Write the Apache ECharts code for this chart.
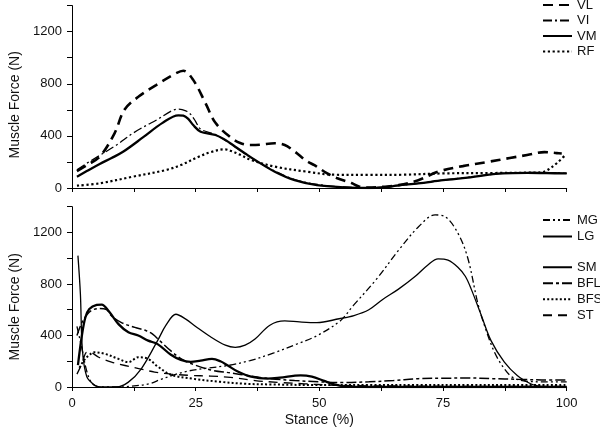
<!DOCTYPE html>
<html><head><meta charset="utf-8">
<script src="https://cdn.jsdelivr.net/npm/echarts@6.0.0/dist/echarts.min.js"></script>
<style>html,body{margin:0;padding:0;background:#fff}#c{width:600px;height:428px}</style>
</head><body><div id="c"></div>
<script>
// ---- Data (Stance %, Force N) ----
const yTitle = 'Muscle Force (N)';
const xTitle = 'Stance (%)';
const topNames = ['VL', 'VI', 'VM', 'RF'];
const bottomNamesA = ['MG', 'LG'];
const bottomNamesB = ['SM', 'BFL', 'BFS', 'ST'];

const VL = [[1,130],[3,175],[5.6,240],[8.6,420],[10.6,600],[13.4,700],[17,790],[21,880],[22.5,900],[24.5,830],[27,650],[29,500],[32,390],[34,345],[36,330],[38,332],[41,343],[43,330],[45,280],[47.5,205],[49,175],[51.5,115],[53.5,77],[56.5,38],[58,12],[60,3],[63,10],[66,22],[70,60],[74,125],[79,168],[84,200],[88.5,230],[92,253],[95.5,275],[98,268],[99,265]];
const VI = [[1,140],[3,190],[5.6,250],[9,330],[12.3,420],[15,480],[17,520],[20.3,595],[21.6,605],[23,592],[24,565],[25,510],[26,452],[29,410],[32,340],[35,262],[38,192],[41,130],[45,65],[50,25],[55,8],[60,3],[65,15],[70,36],[75,60],[80,82],[85,105],[90,118],[95,120],[100,112]];
const VM = [[1,87],[3,130],[5.6,185],[8,230],[10.4,280],[14.4,390],[18.3,500],[21.5,558],[22.5,555],[23.5,530],[24.5,483],[26,432],[29,407],[31,368],[33,317],[35,265],[37,215],[41,125],[45,60],[49.5,22],[55,5],[60,0],[63,5],[66,20],[70,35],[75,60],[80,80],[87,112],[92,116],[96,114],[100,112]];
const RF = [[1,18],[5.6,36],[12.3,87],[19,138],[22,176],[25.6,240],[28,275],[30.9,297],[32.3,282],[34,255],[36.2,215],[41,164],[47.5,125],[53,102],[60,100],[67,102],[75,112],[85,115],[94.7,120],[97,160],[99.6,248]];

const MG = [[1,470],[2,300],[3,120],[4,30],[5,5],[7,0],[10,0],[11.6,5],[15.6,25],[18,60],[20.3,90],[23,120],[27,145],[31.5,167],[36,205],[40.8,265],[45.5,334],[49.5,398],[54.2,513],[56.8,630],[61.5,835],[66.1,1066],[70.1,1246],[73.4,1336],[75.4,1323],[78,1195],[80,1002],[82,655],[83.4,475],[85.4,270],[87.4,141],[89,77],[91,50],[95,40],[100,40]];
const LG = [[1.2,1020],[1.7,720],[2.1,290],[3,80],[4.7,12],[6,0],[9,0],[11.4,38],[14,141],[17.3,360],[19,480],[21,565],[23,527],[25,470],[28,390],[31,325],[33,308],[35,325],[37,372],[40,480],[43,513],[46,505],[49.5,500],[54,530],[57,555],[60,600],[62.8,680],[66,760],[69.4,860],[72,950],[74,995],[76,985],[78,930],[79.5,860],[80.7,760],[82.7,560],[84.7,360],[87.4,193],[90,90],[92.7,25],[94,10],[96,0],[100,0]];
const SM = [[1.2,170],[2,400],[2.7,540],[3.5,605],[5,637],[6,640],[7.4,590],[9.4,488],[11.4,425],[13.4,400],[15.4,360],[17.3,333],[20,250],[22,210],[24,195],[26,205],[28.3,218],[30,200],[31.5,167],[33.5,120],[36.2,80],[39.5,65],[42,72],[46.2,90],[48.5,80],[50.8,50],[53,20],[55,5],[60,0],[100,0]];
const BFL = [[1,400],[2,500],[3,560],[4,595],[5.5,610],[7,600],[8,552],[10,500],[12.7,463],[15,437],[16.3,410],[18,350],[20,280],[22,220],[24.2,180],[28.3,130],[32,110],[36,85],[40,65],[45,50],[50,40],[55,35],[60,40],[65,50],[70,65],[75,68],[80,70],[85,65],[90,60],[95,55],[100,55]];
const BFS = [[1.5,150],[2.5,210],[3.4,245],[4.5,270],[6.7,257],[9.4,218],[11.4,193],[13.4,231],[15.4,218],[17.3,160],[20,95],[24.5,64],[30,40],[35,25],[40,20],[50,15],[60,15],[70,15],[80,15],[90,15],[100,15]];
const ST = [[1,100],[2,180],[3,270],[4,265],[5.4,231],[8,193],[10.7,167],[13.7,141],[16.7,116],[20,100],[24,90],[28,85],[32,75],[37,50],[42,35],[47,25],[52,15],[57,10],[65,8],[80,5],[100,5]];

const topData = {VL, VI, VM, RF};
const bottomData = {MG, LG, SM, BFL, BFS, ST};

const styles = {
  VL: {width: 2.6, type: [10, 6]},
  VI: {width: 1.3, type: [9, 3, 2, 3]},
  VM: {width: 2.3, type: 'solid'},
  RF: {width: 2.2, type: [2.2, 2.6]},
  MG: {width: 1.3, type: [7, 3, 2, 3, 2, 3]},
  LG: {width: 1.3, type: 'solid'},
  SM: {width: 2.3, type: 'solid'},
  BFL: {width: 1.5, type: [10, 3, 3, 3]},
  BFS: {width: 2.0, type: [2, 2.2]},
  ST: {width: 1.3, type: [9, 6]}
};

const FONT = 'Liberation Sans, Arial, sans-serif';
const txt = '#111';

function xAxis(gridIndex, showLabels) {
  return {
    type: 'value', gridIndex, min: 0, max: 100, interval: 12.5,
    name: showLabels ? xTitle : '', nameLocation: 'middle', nameGap: 26,
    nameTextStyle: {fontFamily: FONT, fontSize: 14, color: txt},
    axisLine: {show: true, lineStyle: {color: '#000', width: 1}},
    axisTick: {show: true, length: 4, lineStyle: {color: '#000'}},
    splitLine: {show: false},
    axisLabel: {show: showLabels, margin: 10, fontFamily: FONT, fontSize: 13, color: txt,
      formatter: v => (v % 25 === 0 ? String(v) : '')}
  };
}
function yAxis(gridIndex, pad) {
  return {
    type: 'value', gridIndex, min: 0, max: 1400, interval: 200,
    name: yTitle, nameLocation: 'middle', nameGap: 50,
    nameTextStyle: {fontFamily: FONT, fontSize: 14, color: txt, padding: [0, pad, 0, 0]},
    axisLine: {show: true, lineStyle: {color: '#000', width: 1}},
    axisTick: {show: true, length: 5, lineStyle: {color: '#000'}},
    splitLine: {show: false},
    axisLabel: {margin: 10, fontFamily: FONT, fontSize: 13, color: txt,
      formatter: v => (v % 400 === 0 && v < 1400 ? String(v) : '')}
  };
}
function mk(name, data, idx) {
  const s = styles[name];
  return {
    name, type: 'line', xAxisIndex: idx, yAxisIndex: idx, data,
    smooth: 0.35, showSymbol: false, symbol: 'none',
    lineStyle: {color: '#000', width: s.width, type: s.type},
    itemStyle: {color: '#000'}, animation: false
  };
}
function legend(names, left, top, itemH) {
  return {
    data: names, orient: 'vertical', left, top, padding: 0,
    itemWidth: 29, itemHeight: itemH, itemGap: 0.5, selectedMode: false,
    itemStyle: {opacity: 0},
    textStyle: {fontFamily: FONT, fontSize: 13, color: txt, lineHeight: itemH}
  };
}

const series = [];
topNames.forEach(n => series.push(mk(n, topData[n], 0)));
bottomNamesA.concat(bottomNamesB).forEach(n => series.push(mk(n, bottomData[n], 1)));

const chart = echarts.init(document.getElementById('c'), null, {renderer: 'canvas'});
chart.setOption({
  backgroundColor: '#fff',
  animation: false,
  grid: [
    {left: 65, right: 33.3, top: 5.6, height: 182.4},
    {left: 65, right: 33.3, top: 206.7, height: 181.6}
  ],
  xAxis: [xAxis(0, false), xAxis(1, true)],
  yAxis: [yAxis(0, 16), yAxis(1, 20)],
  legend: [
    legend(topNames, 542, -2.5, 15),
    legend(bottomNamesA, 542, 212, 16),
    legend(bottomNamesB, 542, 259.5, 15.5)
  ],
  series
});
</script></body></html>
